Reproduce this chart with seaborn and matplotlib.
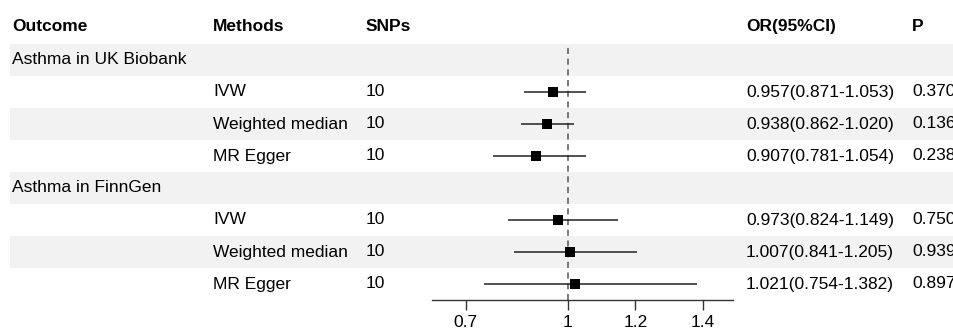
import matplotlib
matplotlib.use("Agg")
import matplotlib.pyplot as plt
import seaborn as sns
import pandas as pd

# Data
outcomes = ["Asthma in UK Biobank", "Asthma in FinnGen"]
methods = ["IVW", "Weighted median", "MR Egger"]
snps = [10, 10, 10, 10, 10, 10]
or_values = [0.957, 0.938, 0.907, 0.973, 1.007, 1.021]
ci_low = [0.871, 0.862, 0.781, 0.824, 0.841, 0.754]
ci_high = [1.053, 1.020, 1.054, 1.149, 1.205, 1.382]
p_values = ["0.370", "0.136", "0.238", "0.750", "0.939", "0.897"]
x_ticks = [0.7, 1.0, 1.2, 1.4]
x_tick_labels = ["0.7", "1", "1.2", "1.4"]
headers = ["Outcome", "Methods", "SNPs", "OR(95%CI)", "P"]

sns.set_style("white")
plt.rcParams["font.family"] = ["Liberation Sans", "DejaVu Sans"]
plt.rcParams["text.color"] = "black"
FS = 12.5
W, H = 954, 330


def build_table():
    """Lay out the rows: outcome header rows followed by one row per method."""
    rows = []
    k = 0
    for outcome in outcomes:
        rows.append({"kind": "outcome", "label": outcome})
        for m in methods:
            rows.append({"kind": "method", "method": m, "snps": str(snps[k]),
                         "or": or_values[k], "lo": ci_low[k], "hi": ci_high[k],
                         "p": p_values[k]})
            k += 1
    df = pd.DataFrame(rows)
    df["row"] = range(1, len(df) + 1)
    return df


df = build_table()

# row i is centred at 28 + 32 * i pixels from the top
top_px, step_px = 28, 32
def px_to_row(px):
    return (px - top_px) / step_px

fig = plt.figure(figsize=(W / 100, H / 100), dpi=100)

# Background axes for stripes and text columns
bg = fig.add_axes([0, 0, 1, 1])
bg.set_xlim(0, W)
bg.set_ylim(px_to_row(H), px_to_row(0))
bg.axis("off")

for r in df["row"]:
    if r % 2 == 1:
        bg.axhspan(r - 0.5, r + 0.5, xmin=10 / W, xmax=1, color="#f2f2f2", lw=0, zorder=0)

col_x = [12, 213, 366, 746, 912]
for x, h in zip(col_x, headers):
    bg.text(x, -0.04, h, fontsize=FS, fontweight="bold", va="center", ha="left")

for _, row in df.iterrows():
    y = row["row"]
    if row["kind"] == "outcome":
        bg.text(col_x[0], y, row["label"], fontsize=FS, va="center", ha="left")
    else:
        bg.text(col_x[1], y, row["method"], fontsize=FS, va="center", ha="left")
        bg.text(col_x[2], y, row["snps"], fontsize=FS, va="center", ha="left")
        bg.text(col_x[3], y, f"{row['or']:.3f}({row['lo']:.3f}-{row['hi']:.3f})",
                fontsize=FS, va="center", ha="left")
        bg.text(col_x[4], y, row["p"], fontsize=FS, va="center", ha="left")

# Forest axes
ax_left, ax_right = 432, 733
ax_top, ax_bottom = 45, 300
ax = fig.add_axes([ax_left / W, 1 - ax_bottom / H, (ax_right - ax_left) / W, (ax_bottom - ax_top) / H])
ax.patch.set_alpha(0)
ax.set_xlim(0.6, 1.488)
ax.set_ylim(px_to_row(ax_bottom), px_to_row(ax_top))

est = df[df["kind"] == "method"]
ax.axvline(1.0, color="#555555", lw=1.1, ls=(0, (4, 3)), zorder=1)
ax.hlines(est["row"], est["lo"], est["hi"], color="#222222", lw=1.1, zorder=2)
sns.scatterplot(data=est, x="or", y="row", marker="s", s=42, color="black",
                edgecolor="black", linewidth=0, ax=ax, zorder=3)

for side in ["top", "right", "left"]:
    ax.spines[side].set_visible(False)
ax.spines["bottom"].set_color("#333333")
ax.spines["bottom"].set_linewidth(1.0)
ax.set_yticks([])
ax.set_xticks(x_ticks)
ax.set_xticklabels(x_tick_labels, fontsize=FS, color="black")
ax.tick_params(axis="x", direction="out", length=7, width=1.0, color="#333333", pad=4, bottom=True)
ax.set_xlabel("")
ax.set_ylabel("")

fig.savefig("out.png", dpi=100)
